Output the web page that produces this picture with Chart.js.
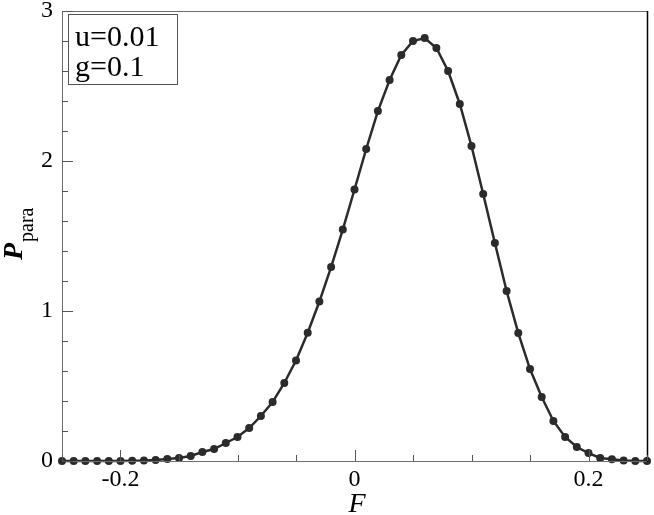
<!DOCTYPE html>
<html><head><meta charset="utf-8">
<script src="https://cdn.jsdelivr.net/npm/chart.js@4/dist/chart.umd.min.js"></script>
<style>html,body{margin:0;padding:0;background:#fff}#wrap{width:654px;height:515px}</style>
</head><body><div id="wrap"><canvas id="c" width="654" height="515"></canvas></div>
<script>
// F values (x) and P_para values (y)
const fValues = [-0.25,-0.24,-0.23,-0.22,-0.21,-0.20,-0.19,-0.18,-0.17,-0.16,
  -0.15,-0.14,-0.13,-0.12,-0.11,-0.10,-0.09,-0.08,-0.07,-0.06,
  -0.05,-0.04,-0.03,-0.02,-0.01,0.00,0.01,0.02,0.03,0.04,
  0.05,0.06,0.07,0.08,0.09,0.10,0.11,0.12,0.13,0.14,
  0.15,0.16,0.17,0.18,0.19,0.20,0.21,0.22,0.23,0.24,0.25];
const pPara = [0,0,0,0,0,0,0.001,0.003,0.007,0.013,
  0.02,0.033,0.06,0.08,0.12,0.16,0.22,0.30,0.393,0.52,
  0.67,0.855,1.063,1.293,1.543,1.81,2.08,2.333,2.54,2.707,
  2.80,2.82,2.753,2.60,2.38,2.10,1.78,1.453,1.133,0.853,
  0.613,0.427,0.267,0.16,0.093,0.053,0.02,0.012,0.003,0,0];
const xTickLabels = [-0.2, 0, 0.2];
const yTickLabels = [0, 1, 2, 3];
const legendLines = ['u=0.01', 'g=0.1'];
const xTitle = 'F';
const yTitleMain = 'P';
const yTitleSub = 'para';

const SERIF = '"Liberation Serif", "DejaVu Serif", serif';
const near = (a, b) => Math.abs(a - b) < 1e-6;

const framePlugin = {
  id: 'frame',
  afterDraw(chart) {
    const ctx = chart.ctx;
    const a = chart.chartArea;
    const xs = chart.scales.x, ys = chart.scales.y;
    ctx.save();
    ctx.lineWidth = 1;
    // frame
    ctx.strokeStyle = '#6e6e6e';
    ctx.beginPath();
    ctx.moveTo(Math.round(a.left) + 0.5, Math.round(a.top) + 0.5);
    ctx.lineTo(Math.round(a.left) + 0.5, Math.round(a.bottom) + 0.5);
    ctx.lineTo(Math.round(a.right) + 0.5, Math.round(a.bottom) + 0.5);
    ctx.moveTo(Math.round(a.left) + 0.5, Math.round(a.top) + 0.5);
    ctx.lineTo(Math.round(a.right) + 0.5, Math.round(a.top) + 0.5);
    ctx.stroke();
    ctx.strokeStyle = '#000';
    ctx.lineWidth = 1.5;
    ctx.beginPath();
    ctx.moveTo(Math.round(a.right) + 0.5, Math.round(a.top));
    ctx.lineTo(Math.round(a.right) + 0.5, Math.round(a.bottom) + 1);
    ctx.stroke();
    // ticks
    ctx.lineWidth = 1;
    ctx.strokeStyle = '#555';
    ctx.beginPath();
    xs.ticks.forEach(t => {
      const px = Math.round(xs.getPixelForValue(t.value)) + 0.5;
      const major = xTickLabels.some(v => near(v, t.value));
      const len = major ? 11 : 6;
      ctx.moveTo(px, a.bottom);
      ctx.lineTo(px, a.bottom - len);
    });
    ys.ticks.forEach(t => {
      const py = Math.round(ys.getPixelForValue(t.value)) + 0.5;
      const major = yTickLabels.some(v => near(v, t.value));
      const len = major ? 11 : 6;
      ctx.moveTo(a.left, py);
      ctx.lineTo(a.left + len, py);
    });
    ctx.stroke();
    // legend box
    ctx.fillStyle = '#fff';
    ctx.fillRect(68.5, 14.5, 109, 70);
    ctx.strokeStyle = '#555';
    ctx.strokeRect(68.5, 14.5, 109, 70);
    ctx.fillStyle = '#000';
    ctx.font = '30px ' + SERIF;
    ctx.textBaseline = 'alphabetic';
    ctx.textAlign = 'left';
    ctx.fillText(legendLines[0], 75, 46);
    ctx.fillText(legendLines[1], 75, 76);
    // x title
    ctx.font = 'italic 28px ' + SERIF;
    ctx.textAlign = 'center';
    ctx.fillText(xTitle, 357, 512);
    // y title
    ctx.save();
    ctx.translate(22, 260);
    ctx.rotate(-Math.PI / 2);
    ctx.textAlign = 'left';
    ctx.font = 'italic bold 28px ' + SERIF;
    ctx.fillText(yTitleMain, 0, 0);
    ctx.font = '20px ' + SERIF;
    ctx.fillText(yTitleSub, 18, 11);
    ctx.restore();
    ctx.restore();
  }
};

new Chart(document.getElementById('c'), {
  type: 'line',
  data: {
    datasets: [{
      data: fValues.map((f, i) => ({ x: f, y: pPara[i] })),
      borderColor: '#2b2b2b',
      backgroundColor: '#2b2b2b',
      borderWidth: 2.5,
      pointRadius: 4,
      pointBorderWidth: 0,
      tension: 0,
      clip: false
    }]
  },
  options: {
    responsive: false,
    animation: false,
    devicePixelRatio: 1,
    layout: { padding: { top: 11, right: 7, left: 0, bottom: 0 } },
    plugins: { legend: { display: false }, tooltip: { enabled: false } },
    scales: {
      x: {
        type: 'linear', min: -0.25, max: 0.25,
        grid: { display: false, drawTicks: false },
        border: { display: false },
        afterFit(s) { s.height = 54; },
        ticks: {
          stepSize: 0.05, autoSkip: false, maxRotation: 0, padding: 4,
          color: '#000', font: { family: SERIF, size: 24 },
          callback(v) {
            const m = xTickLabels.find(t => near(t, v));
            return m === undefined ? '' : String(m);
          }
        }
      },
      y: {
        type: 'linear', min: 0, max: 3,
        grid: { display: false, drawTicks: false },
        border: { display: false },
        afterFit(s) { s.width = 62; },
        ticks: {
          stepSize: 0.2, autoSkip: false, padding: 9,
          color: '#000', font: { family: SERIF, size: 24, lineHeight: 0.1 },
          callback(v) {
            const m = yTickLabels.find(t => near(t, v));
            return m === undefined ? '' : String(m);
          }
        }
      }
    }
  },
  plugins: [framePlugin]
});
</script></body></html>
